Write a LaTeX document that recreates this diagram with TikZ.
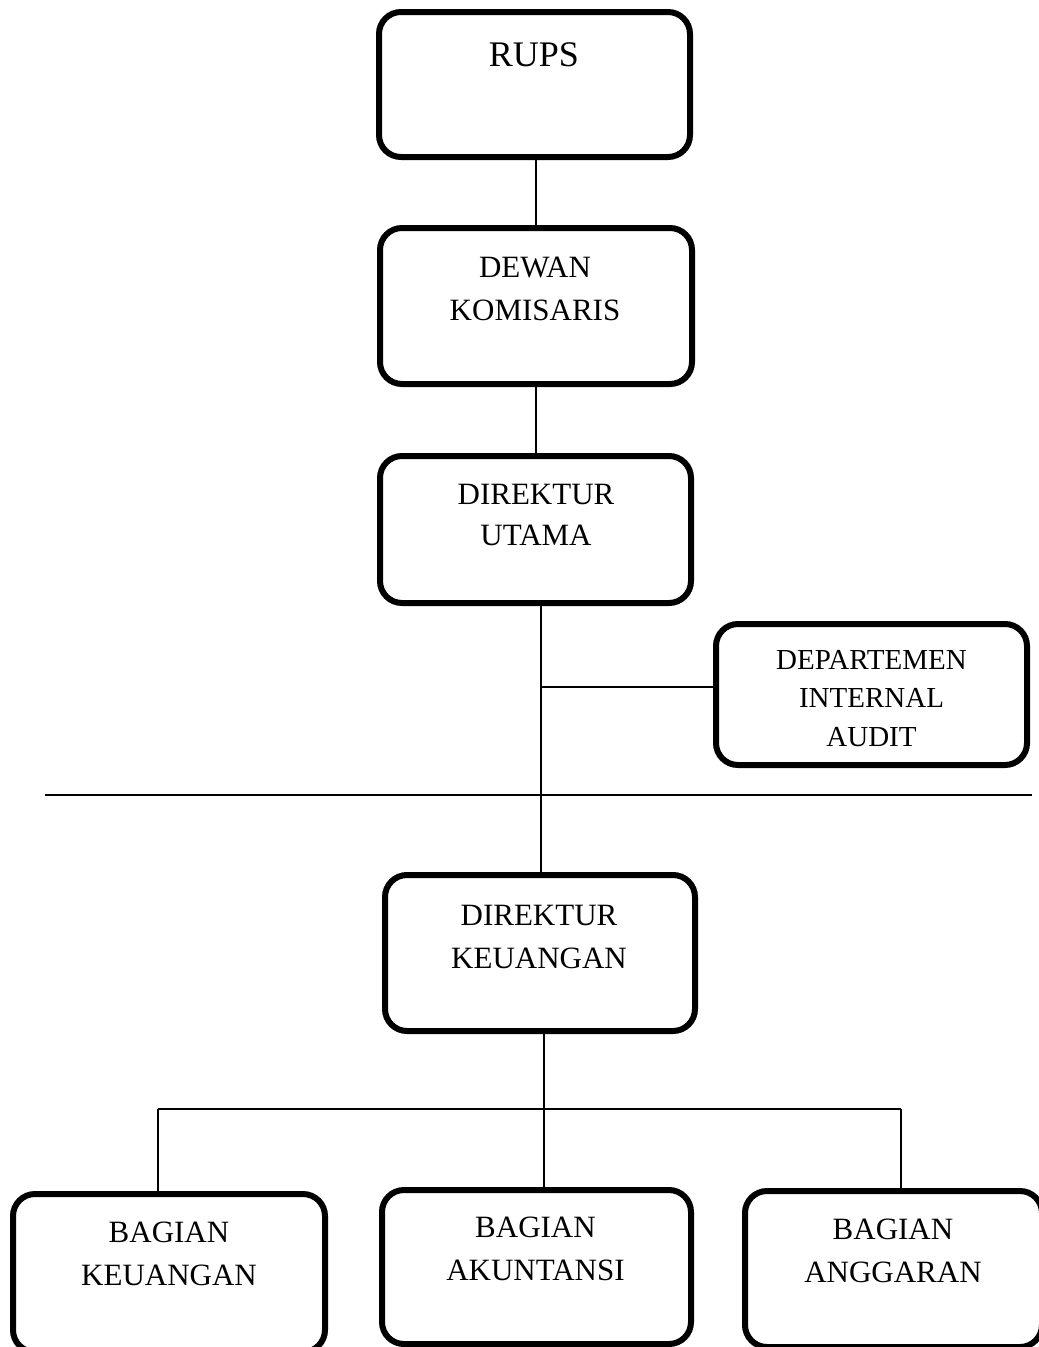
\documentclass[tikz,border=0pt]{standalone}
\usepackage{fontspec}
\setmainfont{Liberation Serif}
\tikzset{
  orgbox/.style={draw=black, line width=6pt, rounded corners=22pt, fill=white, inner sep=0pt},
  lbl/.style={inner sep=0pt, align=center, font=\fontsize{31}{43}\selectfont},
  conn/.style={draw=black, line width=1.5pt},
  sepline/.style={draw=black, line width=2pt}
}
\begin{document}
\begin{tikzpicture}[x=1pt,y=-1pt]
\useasboundingbox (0,0) rectangle (1039,1347);
\fill[white] (0,0) rectangle (1039,1347);

% boxes
\node[orgbox, minimum width=311pt, minimum height=145pt] (rups) at (534.5,84.5) {};
\node[orgbox, minimum width=312pt, minimum height=156pt] (dewan) at (536,306) {};
\node[orgbox, minimum width=311pt, minimum height=147pt] (du) at (535.5,529.5) {};
\node[orgbox, minimum width=311pt, minimum height=141pt] (dept) at (871.5,694.5) {};
\node[orgbox, minimum width=310pt, minimum height=156pt] (dk) at (540,953) {};
\node[orgbox, minimum width=312pt, minimum height=158pt] (bk) at (169,1273) {};
\node[orgbox, minimum width=309pt, minimum height=154pt] (ba) at (536.5,1267) {};
\node[orgbox, minimum width=297pt, minimum height=156pt] (bg) at (893.5,1269) {};

% texts
\node[lbl, font=\fontsize{36}{43}\selectfont] (trups) at (534,55) {RUPS};
\node[lbl] (tdewan) at (535,288.5) {DEWAN\\KOMISARIS};
\node[lbl, font=\fontsize{31}{41}\selectfont] (tdu) at (536,514.5) {DIREKTUR\\UTAMA};
\node[lbl, font=\fontsize{29}{38.5}\selectfont] (tdept) at (871.5,698.3) {DEPARTEMEN\\INTERNAL\\AUDIT};
\node[lbl] (tdk) at (539,936.5) {DIREKTUR\\KEUANGAN};
\node[lbl] (tbk) at (169,1253.5) {BAGIAN\\KEUANGAN};
\node[lbl] (tba) at (535.5,1248.5) {BAGIAN\\AKUNTANSI};
\node[lbl] (tbg) at (893,1251) {BAGIAN\\ANGGARAN};

% coordinates
\coordinate (ia) at (541,687);
\coordinate (sepL) at (45,795);
\coordinate (sepR) at (1032,795);
\coordinate (busL) at (158,1109);
\coordinate (busR) at (901,1109);
\coordinate (busM) at (544,1109);

% connectors
\draw[conn] (rups.south -| dewan.north) -- (dewan.north);
\draw[conn] (dewan.south) -- (dewan.south |- du.north);
\draw[conn] (ia |- du.south) -- (ia |- dk.north);
\draw[conn] (ia) -- (ia -| dept.west);
\draw[sepline] (sepL) -- (sepR);
\draw[conn] (busM |- dk.south) -- (busM |- ba.north);
\draw[conn] (busL) -- (busR);
\draw[conn] (busL) -- (busL |- bk.north);
\draw[conn] (busR) -- (busR |- bg.north);
\end{tikzpicture}
\end{document}
